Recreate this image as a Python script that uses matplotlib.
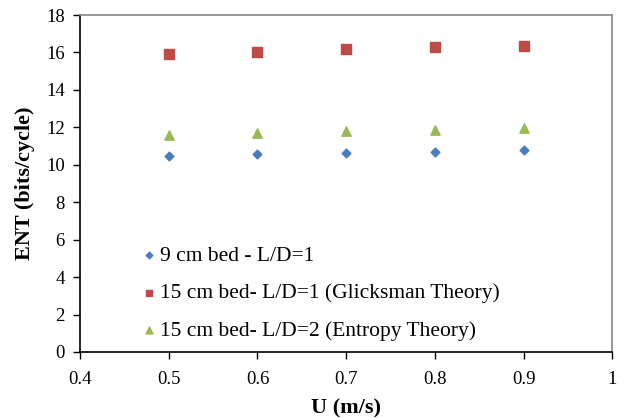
import matplotlib
matplotlib.use("Agg")
import matplotlib.pyplot as plt

plt.rcParams['font.family'] = ['Liberation Serif', 'DejaVu Serif']

u = [0.5, 0.6, 0.7, 0.8, 0.9]
ent_9cm = [10.47, 10.55, 10.63, 10.70, 10.77]
ent_glicksman = [15.91, 16.05, 16.18, 16.27, 16.36]
ent_entropy = [11.59, 11.72, 11.80, 11.88, 11.95]

labels = ["9 cm bed - L/D=1",
          "15 cm bed- L/D=1 (Glicksman Theory)",
          "15 cm bed- L/D=2 (Entropy Theory)"]

fig, ax = plt.subplots(figsize=(6.26, 4.18), dpi=100)
fig.subplots_adjust(left=0.128, right=0.978, top=0.964, bottom=0.158)

ax.scatter(u, ent_9cm, marker='D', s=20, color='#4a7ebb', label=labels[0], zorder=3)
ax.scatter(u, ent_glicksman, marker='s', s=45, color='#be4b48', label=labels[1], zorder=3)
ax.scatter(u, ent_entropy, marker='^', s=45, color='#98b954', label=labels[2], zorder=3)

ax.set_xlim(0.4, 1.0)
ax.set_ylim(0, 18)
ax.set_xticks([0.4, 0.5, 0.6, 0.7, 0.8, 0.9, 1.0])
ax.set_xticklabels(['0.4', '0.5', '0.6', '0.7', '0.8', '0.9', '1'])
ax.set_yticks(range(0, 19, 2))
ax.tick_params(direction='out', length=5, width=1, labelsize=13.5, colors='black')
ax.tick_params(axis='x', pad=9)
ax.tick_params(axis='y', pad=6)

ax.spines['left'].set_color('black')
ax.spines['bottom'].set_color('black')
ax.spines['top'].set_color('#868686')
ax.spines['right'].set_color('#868686')
for s in ax.spines.values():
    s.set_linewidth(1.2)

ax.set_xlabel('U (m/s)', fontsize=16, fontweight='bold', labelpad=7)
ax.set_ylabel('ENT (bits/cycle)', fontsize=16, fontweight='bold', labelpad=8)

ax.legend(loc='lower left', bbox_to_anchor=(0.072, -0.024), frameon=False,
          fontsize=15.5, handletextpad=0.05, labelspacing=0.8, markerscale=0.75,
          handlelength=1.0)

fig.savefig('out.png', dpi=100)
